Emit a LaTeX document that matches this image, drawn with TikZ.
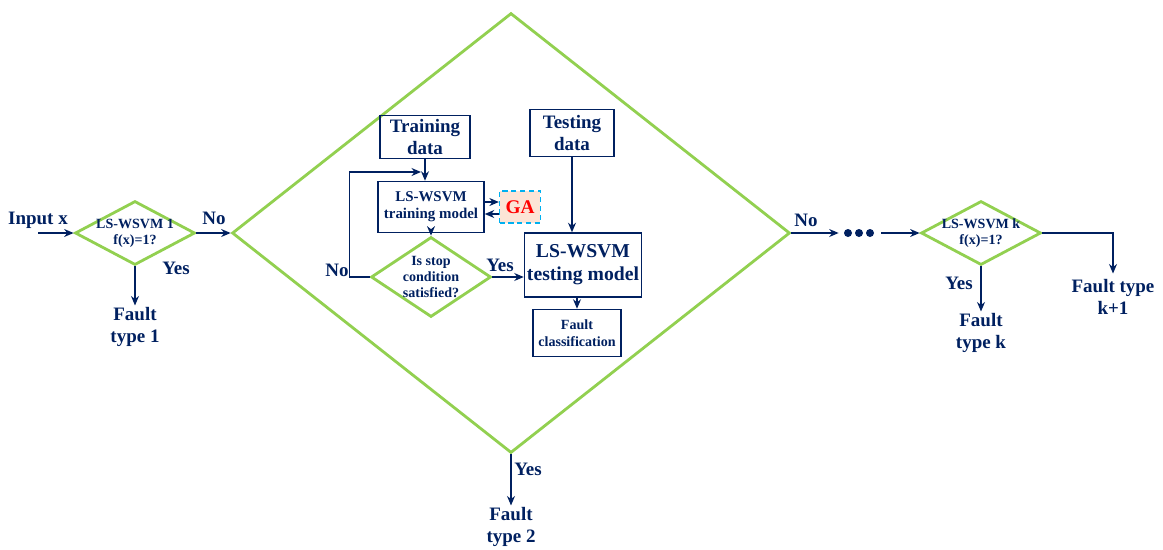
\documentclass[tikz,border=0pt]{standalone}
\usepackage{fontspec}
\setmainfont{Liberation Serif}
\usetikzlibrary{arrows.meta,shapes.geometric}
\definecolor{navy}{RGB}{0,32,96}
\definecolor{lgreen}{RGB}{146,208,80}
\definecolor{gacyan}{RGB}{0,176,240}
\definecolor{gafill}{RGB}{252,228,214}
\tikzset{
    flow/.style={draw=navy, line width=0.7pt, -{Stealth[length=1.9mm,width=1.6mm]}},
    lbl/.style={text=navy, font=\bfseries\fontsize{10.8}{12.3}\selectfont, align=center, inner sep=1pt}
}

\begin{document}
\begin{tikzpicture}[x=0.02cm, y=-0.02cm,
    box/.style={rectangle, draw=navy, line width=0.9pt, text=navy, font=\bfseries, align=center, inner sep=1pt},
    test/.style={diamond, draw=lgreen, line width=1.6pt, text=navy, font=\bfseries\fontsize{8}{9}\selectfont, align=center, inner sep=-3pt, aspect=1.9},
    blob/.style={circle, fill=navy, inner sep=0pt, minimum size=0.16cm}
]
    \useasboundingbox (0,0) rectangle (1163,549);

    % Outer tests
    \node[test, minimum width=2.4cm, minimum height=1.28cm] (D1) at (135,233) {LS-WSVM 1\\f(x)=1?};
    \node[diamond, draw=lgreen, line width=1.6pt, minimum width=11.16cm, minimum height=8.8cm] (D2) at (511,233) {};
    \node[test, minimum width=2.4cm, minimum height=1.28cm] (DK) at (981,233) {LS-WSVM k\\f(x)=1?};

    % Inner flow (inside the big diamond)
    \node[box, minimum width=1.8cm, minimum height=0.86cm, font=\bfseries\fontsize{10.8}{12}\selectfont] (TRD) at (425,137) {Training\\data};
    \node[box, minimum width=2.12cm, minimum height=1.02cm, font=\bfseries\fontsize{8.5}{9.7}\selectfont] (TRM) at (431,207) {LS-WSVM\\training model};
    \node[rectangle, draw=gacyan, densely dashed, line width=0.9pt, fill=gafill, text=red, font=\bfseries\fontsize{11}{12}\selectfont, minimum width=0.8cm, minimum height=0.64cm] (GA) at (520,207) {GA};
    \node[test, aspect=1.5, minimum width=2.4cm, minimum height=1.6cm] (STOP) at (431,277) {Is stop\\condition\\satisfied?};
    \node[box, minimum width=1.68cm, minimum height=0.94cm, font=\bfseries\fontsize{10.8}{12}\selectfont] (TSD) at (572,133) {Testing\\data};
    \node[box, minimum width=2.34cm, minimum height=1.28cm, font=\bfseries\fontsize{11.2}{13}\selectfont] (TSM) at (583,265) {LS-WSVM\\testing model};
    \node[box, minimum width=1.76cm, minimum height=0.94cm, font=\bfseries\fontsize{8}{9.6}\selectfont] (FC) at (577,333) {Fault\\classification};
    \coordinate (LOOP) at (421,172);

    % Dots between the tests
    \foreach \i in {0,1,2}
        \node[blob] (B\i) at (848+11*\i,233) {};

    % Labels
    \node[lbl] (INX) at (38,220) {Input x};
    \coordinate (IN) at (38,233);
    \node[lbl] (NO1) at (214,218) {No};
    \node[lbl] (YES1) at (176,268) {Yes};
    \node[lbl] (FT1) at (135,327) {Fault\\type 1};
    \node[lbl] (NOIN) at (337,270) {No};
    \node[lbl] (YESIN) at (500,265) {Yes};
    \node[lbl] (YES2) at (528,469) {Yes};
    \node[lbl] (FT2) at (511,527) {Fault\\type 2};
    \node[lbl] (NO2) at (806,220) {No};
    \node[lbl] (YESK) at (959,283) {Yes};
    \node[lbl] (FTK) at (981,333) {Fault\\type k};
    \node[lbl] (FTK1) at (1113,297) {Fault type\\k+1};

    % Connectors
    \draw[flow] (IN) -- (D1.west);
    \draw[flow] (D1.east) -- (D2.west);
    \draw[flow] (D1.south) -- (FT1.north);
    \draw[flow] (D2.south) -- (FT2.north);
    \draw[flow, shorten >=0.1cm] (D2.east) -- (B0.west);
    \draw[flow, shorten <=0.14cm] (B2.east) -- (DK.west);
    \draw[flow] (DK.south) -- (FTK.north);
    \draw[flow] (DK.east) -| ([yshift=0.08cm]FTK1.north);

    \draw[flow] (TRD.south) -- (TRD.south |- TRM.north);
    \draw[flow] ([yshift=0.1cm]TRM.east) -- ([yshift=0.1cm]GA.west);
    \draw[flow] ([yshift=-0.14cm]GA.west) -- ([yshift=-0.14cm]TRM.east);
    \draw[flow] (TRM.south) -- (STOP.north);
    \draw[flow] (STOP.west) -- ++(-20,0) |- (LOOP);
    \draw[flow] (STOP.east) -- (STOP.east -| TSM.west);
    \draw[flow] (TSD.south) -- (TSD.south |- TSM.north);
    \draw[flow] (FC.north |- TSM.south) -- (FC.north);
\end{tikzpicture}
\end{document}
